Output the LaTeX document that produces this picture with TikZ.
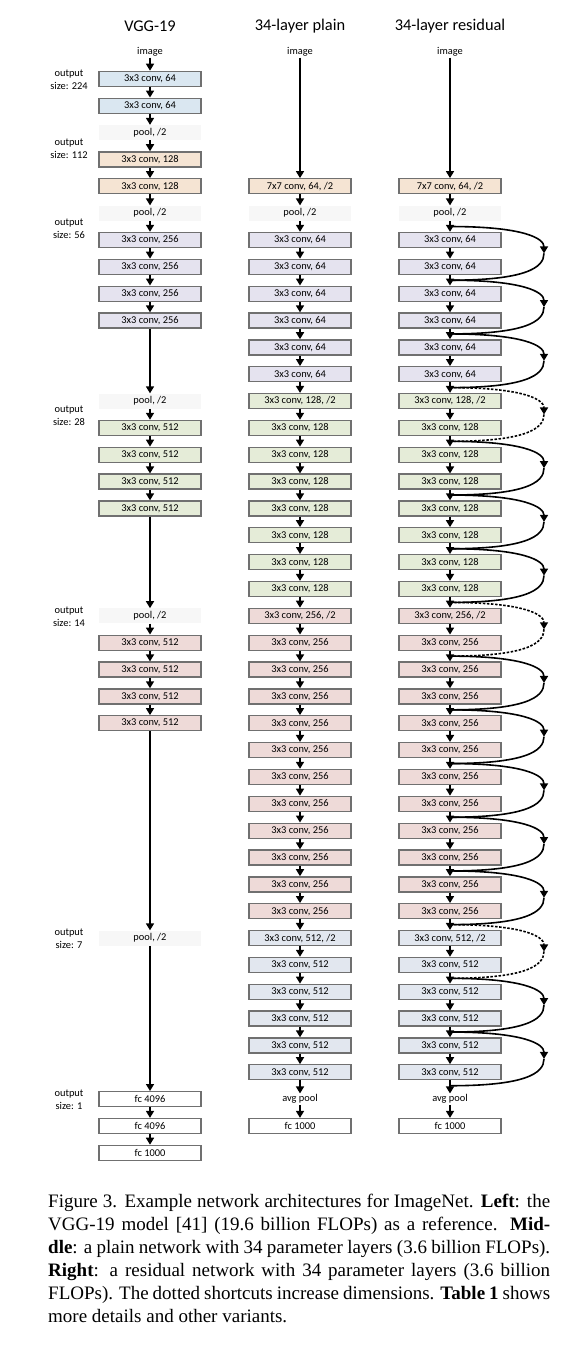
\documentclass[tikz,border=0pt]{standalone}
\usepackage{fontspec}
\setmainfont{Carlito}
\newfontfamily\capfont{Liberation Serif}
\usetikzlibrary{arrows.meta,calc}
\definecolor{cblue}{HTML}{DAE7F1}
\definecolor{cpeach}{HTML}{F5E4D3}
\definecolor{clav}{HTML}{E5E3EF}
\definecolor{cgreen}{HTML}{E5ECD8}
\definecolor{cpink}{HTML}{EEDAD8}
\definecolor{cgray}{HTML}{E2E7EF}
\definecolor{cborder}{HTML}{707070}
\definecolor{cpool}{HTML}{F7F7F7}
\begin{document}
\begin{tikzpicture}[x=1pt,y=-1pt,
  box/.style={draw=cborder, line width=1.3pt, minimum width=102pt, minimum height=15pt, inner sep=0pt, font=\fontsize{10.4}{12}\selectfont},
  poolbox/.style={fill=cpool, minimum width=102pt, minimum height=15pt, inner sep=0pt, font=\fontsize{10.4}{12}\selectfont},
  txt/.style={inner sep=1pt, font=\fontsize{10.4}{12}\selectfont},
  arr/.style={line width=1.6pt, -{Triangle[width=8pt,length=7pt]}},
  sc/.style={line width=1.6pt},
  dotsc/.style={line width=1.6pt, dash pattern=on 2.5pt off 1.6pt},
  lbl/.style={align=center, font=\fontsize{10.4}{13.3}\selectfont, inner sep=0pt},
  ttl/.style={font=\fontsize{16.4}{19}\selectfont, inner sep=0pt}]
\fill[white] (0,0) rectangle (566,1348);
\useasboundingbox (0,0) rectangle (566,1348);

% titles
\node[ttl] (t1) at (150,26) {VGG-19};
\node[ttl] (t2) at (300,26) {34-layer plain};
\node[ttl] (t3) at (450,26) {34-layer residual};

% output size labels
\node[lbl] (o1) at (69,79.5) {output\\size: 224};
\node[lbl] (o2) at (69,148.5) {output\\size: 112};
\node[lbl] (o3) at (69,228.5) {output\\size: 56};
\node[lbl] (o4) at (69,416) {output\\size: 28};
\node[lbl] (o5) at (69,616.5) {output\\size: 14};
\node[lbl] (o6) at (69,938.5) {output\\size: 7};
\node[lbl] (o7) at (69,1099.5) {output\\size: 1};

% VGG-19
\node[txt] (v0) at (150,52) {image};
\foreach \i in {1,2} \node[box,fill=cblue] (v\i) at (150,{52+26.85*\i}) {3x3 conv, 64};
\foreach \i in {4,5} \node[box,fill=cpeach] (v\i) at (150,{52+26.85*\i}) {3x3 conv, 128};
\foreach \i in {3,6,13,21,33} \node[poolbox] (v\i) at (150,{52+26.85*\i}) {pool, /2};
\foreach \i in {7,...,10} \node[box,fill=clav] (v\i) at (150,{52+26.85*\i}) {3x3 conv, 256};
\foreach \i in {14,...,17} \node[box,fill=cgreen] (v\i) at (150,{52+26.85*\i}) {3x3 conv, 512};
\foreach \i in {22,...,25} \node[box,fill=cpink] (v\i) at (150,{52+26.85*\i}) {3x3 conv, 512};
\foreach \i in {39,40} \node[box,fill=white] (v\i) at (150,{52+26.85*\i}) {fc 4096};
\node[box,fill=white] (v41) at (150,{52+26.85*41}) {fc 1000};
\foreach \a/\b in {0/1,1/2,2/3,3/4,4/5,5/6,6/7,7/8,8/9,9/10,10/13,13/14,14/15,15/16,16/17,17/21,21/22,22/23,23/24,24/25,25/33,33/39,39/40,40/41}
  \draw[arr] (v\a) -- (v\b);

% plain and residual columns
\foreach \c/\x in {p/300,r/450} {
  \node[txt] (\c0) at (\x,52) {image};
  \node[box,fill=cpeach] (\c5) at (\x,{52+26.85*5}) {7x7 conv, 64, /2};
  \node[poolbox] (\c6) at (\x,{52+26.85*6}) {pool, /2};
  \foreach \i in {7,...,12} \node[box,fill=clav] (\c\i) at (\x,{52+26.85*\i}) {3x3 conv, 64};
  \node[box,fill=cgreen] (\c13) at (\x,{52+26.85*13}) {3x3 conv, 128, /2};
  \foreach \i in {14,...,20} \node[box,fill=cgreen] (\c\i) at (\x,{52+26.85*\i}) {3x3 conv, 128};
  \node[box,fill=cpink] (\c21) at (\x,{52+26.85*21}) {3x3 conv, 256, /2};
  \foreach \i in {22,...,32} \node[box,fill=cpink] (\c\i) at (\x,{52+26.85*\i}) {3x3 conv, 256};
  \node[box,fill=cgray] (\c33) at (\x,{52+26.85*33}) {3x3 conv, 512, /2};
  \foreach \i in {34,...,38} \node[box,fill=cgray] (\c\i) at (\x,{52+26.85*\i}) {3x3 conv, 512};
  \node[txt] (\c39) at (\x,{52+26.85*39}) {avg pool};
  \node[box,fill=white] (\c40) at (\x,{52+26.85*40}) {fc 1000};
  \draw[arr] (\c0) -- (\c5);
  \foreach \i [evaluate=\i as \j using int(\i+1)] in {5,...,39} \draw[arr] (\c\i) -- (\c\j);
}

% shortcut junctions
\foreach \k in {6,8,...,38} \coordinate (j\k) at (450,{52+26.85*(\k+0.5)});
\foreach \k/\st in {6/sc,8/sc,10/sc,12/dotsc,14/sc,16/sc,18/sc,20/dotsc,22/sc,24/sc,26/sc,28/sc,30/sc,32/dotsc,34/sc,36/sc} {
  \pgfmathtruncatemacro\n{\k+2}
  \coordinate (m\k) at (544,{52+26.85*(\k+1.5)});
  \draw[\st,-{Triangle[width=8pt,length=7pt]}] (j\k) .. controls ($(j\k)+(74,0)$) and ($(m\k)+(0,-15)$) .. (m\k);
  \draw[\st] (m\k) .. controls ($(m\k)+(0,15)$) and ($(j\n)+(74,0)$) .. (j\n);
}

% caption
\node[anchor=north west, inner sep=0pt] (cap) at (48,1194) {\capfont\fontsize{19}{23}\selectfont\vbox{\hsize=502pt
\hbox to\hsize{Figure 3. Example network architectures for ImageNet. \textbf{Left}: the}
\hbox to\hsize{VGG-19 model [41] (19.6 billion FLOPs) as a reference. \textbf{Mid-}}
\hbox to\hsize{\textbf{dle}: a plain network with 34 parameter layers (3.6 billion FLOPs).}
\hbox to\hsize{\textbf{Right}: a residual network with 34 parameter layers (3.6 billion}
\hbox to\hsize{FLOPs). The dotted shortcuts increase dimensions. \textbf{Table 1} shows}
\hbox{more details and other variants.}}};
\end{tikzpicture}
\end{document}
